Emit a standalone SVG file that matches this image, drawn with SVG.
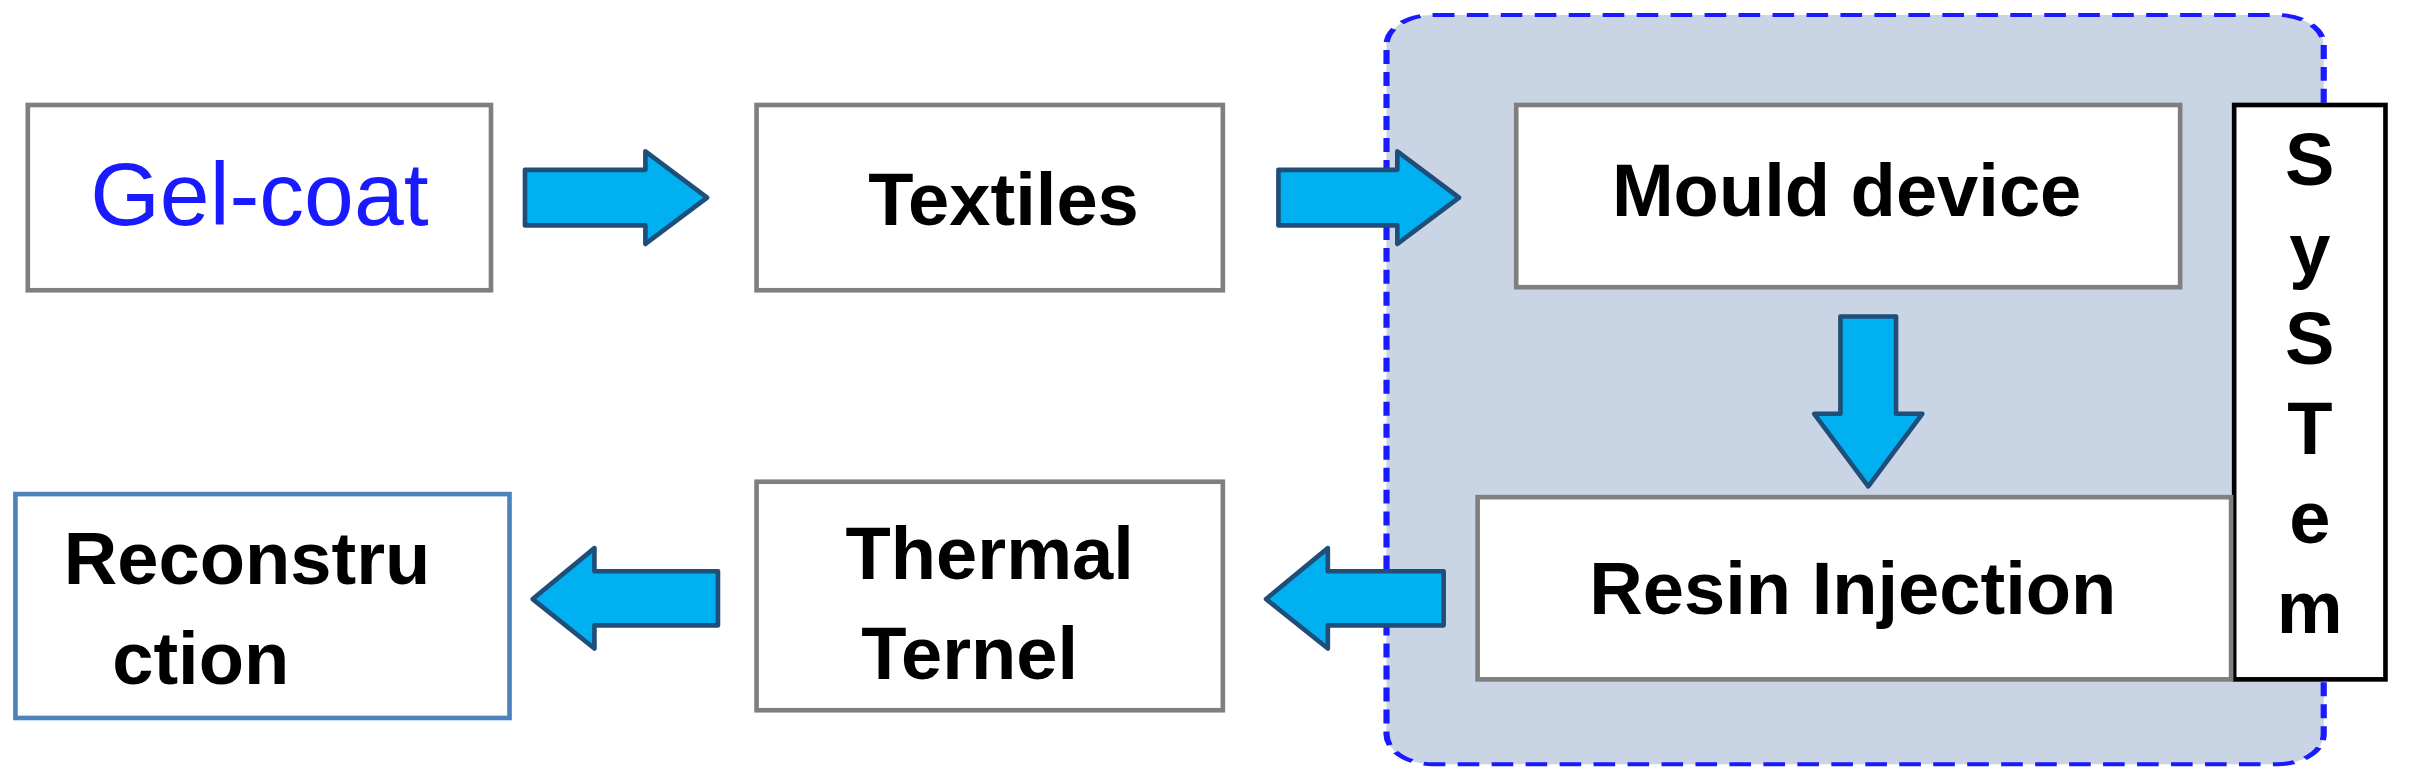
<svg xmlns="http://www.w3.org/2000/svg" width="2421" height="773" viewBox="0 0 2421 773">
<style>
.box{fill:#fff;stroke:#7f7f7f;stroke-width:3}
.t{font-family:"Liberation Sans",Arial,sans-serif;font-size:48px;font-weight:bold;fill:#000;text-anchor:middle}
.ar{fill:#00b0f0;stroke:#1f4e79;stroke-width:3;stroke-linejoin:round}
</style>
<g transform="scale(1.544)">
<rect x="898" y="15" width="607" height="750" rx="30" fill="#c9d5e4" stroke="#1a1aff" stroke-width="4" stroke-dasharray="14 8" transform="scale(1 0.647)"/>
<g id="gelcoat"><rect class="box" x="18" y="68" width="300" height="120"/><text class="t" x="168" y="146" style="fill:#1a1aff;font-size:58px;font-weight:normal">Gel-coat</text></g>
<g id="textiles"><rect class="box" x="490" y="68" width="302" height="120"/><text class="t" x="650" y="146">Textiles</text></g>
<g id="mould"><rect class="box" x="982" y="68" width="430" height="118"/><text class="t" x="1196" y="140">Mould  device</text></g>
<g id="system"><rect x="1447" y="68" width="98" height="372" fill="#fff" stroke="#000" stroke-width="3"/>
<text class="t" x="1496" y="120">S</text><text class="t" x="1496" y="178">y</text><text class="t" x="1496" y="236">S</text><text class="t" x="1496" y="294">T</text><text class="t" x="1496" y="352">e</text><text class="t" x="1496" y="410">m</text></g>
<g id="resin"><rect class="box" x="957" y="322" width="488" height="118"/><text class="t" x="1200" y="398">Resin Injection</text></g>
<g id="thermal"><rect class="box" x="490" y="312" width="302" height="148"/><text class="t" x="641" y="375">Thermal</text><text class="t" x="628" y="440">Ternel</text></g>
<g id="recon"><rect x="10" y="320" width="320" height="145" fill="#fff" stroke="#4f81bd" stroke-width="3"/><text class="t" x="160" y="378">Reconstru</text><text class="t" x="130" y="443">ction</text></g>
<g id="connectors">
<path class="ar" d="M340,110 H418 V98 L458,128 L418,158 V146 H340 Z"/>
<path class="ar" d="M828,110 H905 V98 L945,128 L905,158 V146 H828 Z"/>
<path class="ar" d="M1192,205 H1228 V268 H1245 L1210,315 L1175,268 H1192 Z"/>
<path class="ar" d="M935,370 H860 V355 L820,388 L860,420 V405 H935 Z"/>
<path class="ar" d="M465,370 H385 V355 L345,388 L385,420 V405 H465 Z"/>
</g>
</g>
</svg>
